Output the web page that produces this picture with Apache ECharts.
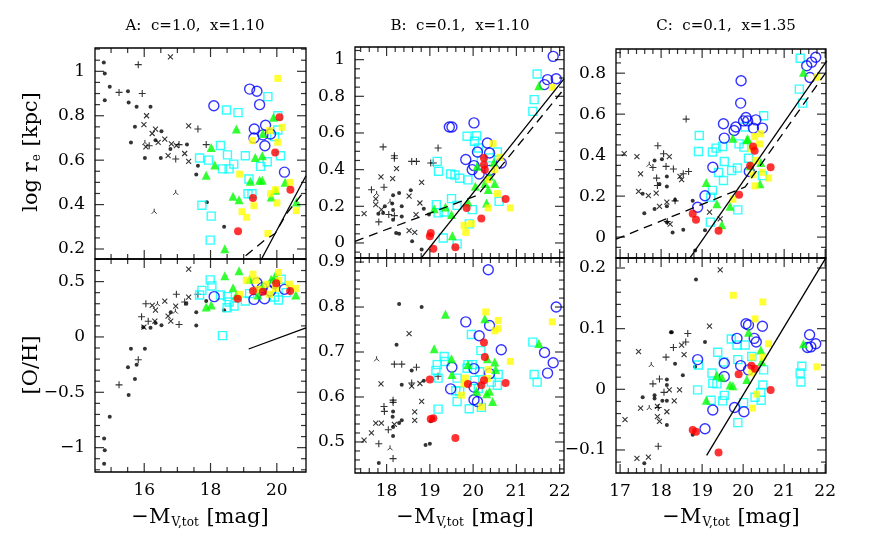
<!DOCTYPE html>
<html>
<head>
<meta charset="utf-8">
<script src="https://cdn.jsdelivr.net/npm/echarts@6/dist/echarts.min.js"></script>
<style>
  html, body { margin: 0; padding: 0; background: #fff; }
  #chart { width: 872px; height: 544px; }
</style>
</head>
<body>
<div id="chart"></div>
<script>
// ---- tick labels ----
const aXLabels = [16, 18, 20];
const bXLabels = [18, 19, 20, 21, 22];
const cXLabels = [17, 18, 19, 20, 21, 22];
const aReYLabels = [0.2, 0.4, 0.6, 0.8, 1];
const aOHYLabels = [-1, -0.5, 0, 0.5];
const bReYLabels = [0, 0.2, 0.4, 0.6, 0.8, 1];
const bOHYLabels = [0.5, 0.6, 0.7, 0.8, 0.9];
const cReYLabels = [0, 0.2, 0.4, 0.6, 0.8];
const cOHYLabels = [-0.1, 0, 0.1, 0.2];

// ---- panel A : log r_e ----
const aReDot = [[14.78,1.04],[14.81,0.99],[14.96,0.93],[14.81,0.87],[15.51,0.91],[15.53,0.86],[15.77,0.84],[16.19,0.84],[15.72,0.75],[15.60,0.68],[16.02,0.61],[16.34,0.69],[16.52,0.73],[16.79,0.65],[17.29,0.67],[17.62,0.575],[17.57,0.535],[17.89,0.41],[18.41,0.30],[16.50,0.61]];
const aRePlus = [[15.82,1.03],[15.24,0.905],[15.94,0.90],[17.62,0.74],[16.15,0.665],[16.95,0.605],[17.05,0.67],[17.87,0.67]];
const aReCross = [[16.79,1.065],[16.07,0.80],[15.99,0.76],[16.24,0.72],[16.34,0.74],[16.62,0.695],[16.42,0.68],[16.72,0.62],[16.97,0.665],[17.22,0.63],[17.34,0.595],[17.34,0.754],[16.05,0.66],[16.82,0.673]];
const aReTri = [[16.02,0.68],[16.95,0.455],[16.30,0.37]];
const aReBlue = [[18.10,0.845],[19.18,0.92],[19.40,0.91],[19.48,0.85],[19.32,0.74],[19.66,0.757],[19.31,0.70],[19.58,0.714],[19.81,0.718],[19.64,0.665],[20.23,0.546]];
const aReCyan = [[18.48,0.826],[18.83,0.814],[19.73,0.886],[20.03,0.80],[20.03,0.736],[19.93,0.706],[18.30,0.666],[18.51,0.624],[17.67,0.61],[17.94,0.60],[19.05,0.62],[18.70,0.582],[18.36,0.561],[18.56,0.561],[19.51,0.572],[19.71,0.593],[20.11,0.62],[19.16,0.515],[19.13,0.449],[19.25,0.449],[17.74,0.397],[18.02,0.348],[17.99,0.24]];
const aReGreen = [[19.90,0.793],[18.78,0.74],[19.58,0.72],[18.02,0.657],[19.35,0.612],[19.56,0.62],[18.13,0.578],[17.87,0.532],[19.20,0.505],[19.48,0.509],[19.56,0.509],[20.25,0.50],[19.96,0.464],[18.68,0.437],[18.86,0.422],[19.83,0.434],[20.59,0.412],[18.43,0.201]];
const aReYellow = [[20.03,0.968],[20.16,0.748],[19.78,0.733],[19.26,0.688],[20.03,0.681],[18.88,0.537],[20.40,0.50],[19.81,0.449],[19.96,0.467],[20.00,0.407],[19.31,0.395],[18.95,0.368],[19.09,0.343],[19.73,0.27],[20.59,0.373]];
const aReRed = [[20.08,0.793],[19.95,0.635],[20.41,0.467],[19.28,0.43],[18.83,0.28]];
const aReSolid = [[19.53,0.153],[20.88,0.53]];
const aReDash = [[19.06,0.17],[19.63,0.24],[19.95,0.27],[20.3,0.36],[20.88,0.47]];

// ---- panel A : [O/H] ----
const aOHDot = [[14.79,-0.918],[14.81,-1.024],[14.79,-1.145],[14.96,-0.721],[15.53,-0.524],[15.51,-0.273],[15.60,-0.106],[15.72,-0.379],[15.77,-0.252],[16.02,-0.106],[15.97,0.088],[16.19,0.082],[16.34,0.127],[16.52,0.106],[16.80,0.224],[17.27,0.30],[17.57,0.224],[17.57,0.103],[17.87,0.324],[18.41,0.242]];
const aOHPlus = [[16.05,0.30],[15.92,0.182],[15.82,-0.206],[15.24,-0.433],[16.97,0.385],[17.05,0.112],[17.62,0.385],[17.22,0.315],[16.12,0.142]];
const aOHCross = [[17.34,0.612],[16.24,0.285],[16.34,0.242],[16.62,0.324],[16.72,0.188],[16.80,0.142],[16.95,0.279],[17.34,0.36],[15.99,0.088],[16.32,0.142]];
const aOHTri = [[16.40,0.30],[16.94,0.233]];
const aOHBlue = [[18.11,0.364],[19.40,0.49],[19.31,0.339],[19.63,0.345],[19.81,0.415],[20.23,0.43],[19.56,0.445],[19.93,0.482]];
const aOHCyan = [[17.99,0.515],[18.04,0.46],[17.74,0.421],[17.67,0.379],[18.30,0.379],[18.51,0.364],[18.56,0.315],[18.71,0.279],[18.50,0.264],[19.05,0.324],[19.18,0.391],[18.36,0.012],[20.13,0.521],[20.05,0.333],[19.93,0.361],[20.28,0.40]];
const aOHGreen = [[18.43,0.552],[18.86,0.597],[18.68,0.445],[17.87,0.27],[18.02,0.288],[18.78,0.376],[19.18,0.521],[19.56,0.455],[19.83,0.521],[19.95,0.552],[20.57,0.379],[19.43,0.379]];
const aOHYellow = [[19.28,0.567],[19.08,0.512],[19.36,0.512],[19.43,0.43],[19.68,0.476],[20.05,0.582],[20.06,0.512],[19.96,0.439],[20.38,0.476],[20.57,0.439],[18.89,0.385],[19.78,0.385]];
const aOHRed = [[18.82,0.345],[19.28,0.415],[19.98,0.485],[20.40,0.415],[19.58,0.409]];
const aOHSolid = [[19.15,-0.109],[20.88,0.082]];

// ---- panel B : log r_e ----
const bReDot = [[17.81,0.16],[17.96,0.20],[18.15,0.26],[18.13,0.215],[18.15,0.18],[18.15,0.127],[18.29,0.273],[18.35,0.20],[18.35,0.145],[18.22,0.055],[18.29,0.05],[18.56,0.287],[18.59,0.01],[18.86,0.187],[18.81,-0.036],[18.98,0.155],[17.92,0.164]];
const bRePlus = [[17.92,0.524],[18.18,0.476],[18.18,0.462],[18.58,0.445],[18.69,0.445],[19.02,0.436],[19.08,0.436],[19.19,0.518],[17.65,0.29],[17.94,0.304],[17.82,0.115],[18.05,0.155],[18.18,0.149]];
const bReCross = [[17.48,0.16],[17.87,0.36],[18.14,0.351],[18.23,0.405],[17.75,0.24],[17.75,0.209],[17.88,0.182],[18.52,0.255],[18.68,0.155],[18.81,0.331],[18.77,0.218],[18.52,0.067],[18.65,0.058]];
const bReTri = [[17.77,0.27],[18.08,0.227]];
const bReBlue = [[19.45,0.633],[19.51,0.633],[20.02,0.655],[20.33,0.545],[20.10,0.496],[20.38,0.491],[19.83,0.455],[20.02,0.422],[19.98,0.40],[20.14,0.376],[20.38,0.396],[20.65,0.436],[21.85,1.018],[21.72,0.891],[21.65,0.864],[21.92,0.896]];
const bReCyan = [[21.48,0.922],[21.41,0.782],[21.38,0.718],[19.17,0.445],[19.20,0.391],[19.48,0.376],[19.58,0.371],[19.69,0.353],[19.88,0.344],[19.86,0.582],[20.08,0.585],[20.03,0.555],[20.12,0.518],[20.19,0.445],[20.56,0.496],[20.40,0.464],[19.50,0.242],[19.63,0.205],[19.15,0.209],[19.19,0.164],[19.33,0.169],[19.98,0.182],[19.91,0.104],[19.31,0.027],[19.63,-0.005],[20.60,0.227]];
const bReGreen = [[21.52,0.858],[19.10,0.187],[19.36,0.196],[19.50,0.155],[19.52,0.04],[19.88,0.224],[20.05,0.309],[20.27,0.324],[20.38,0.364],[20.35,0.291],[20.31,0.218],[20.50,0.324],[20.48,0.44],[20.09,0.418]];
const bReYellow = [[21.83,0.849],[20.46,0.542],[20.62,0.467],[20.50,0.40],[20.35,0.345],[20.56,0.269],[20.35,0.191],[20.86,0.191],[19.79,0.096],[19.83,0.058],[19.96,0.105]];
const bReRed = [[20.25,0.464],[20.25,0.427],[20.27,0.40],[19.85,0.191],[20.19,0.133],[20.75,0.24],[19.02,0.055],[19.00,0.036],[19.08,-0.031],[19.59,-0.024]];
const bReSolid = [[18.77,-0.091],[22.1,0.895]];
const bReDash = [[17.27,0.009],[20.1,0.26],[22.1,0.84]];

// ---- panel B : [O/H] ----
const bOHDot = [[18.29,0.807],[18.81,0.80],[18.23,0.716],[18.35,0.627],[18.58,0.659],[18.86,0.636],[18.15,0.568],[18.14,0.556],[18.15,0.533],[18.15,0.513],[18.29,0.542],[18.35,0.548],[17.82,0.453],[18.90,0.493],[19.00,0.496],[19.02,0.546],[19.08,0.553]];
const bOHPlus = [[18.18,0.673],[18.35,0.673],[18.69,0.666],[19.19,0.646],[18.15,0.593],[18.15,0.588],[17.94,0.579],[17.95,0.568],[18.04,0.527],[17.82,0.496],[18.15,0.463],[18.58,0.631]];
const bOHCross = [[17.48,0.504],[17.65,0.52],[17.75,0.542],[17.88,0.542],[17.87,0.629],[18.52,0.741],[18.58,0.624],[18.77,0.63],[18.81,0.59],[18.65,0.567],[18.65,0.548],[18.18,0.539]];
const bOHTri = [[17.77,0.685],[18.08,0.487]];
const bOHBlue = [[20.35,0.883],[21.92,0.80],[19.83,0.767],[20.38,0.759],[20.14,0.736],[20.65,0.705],[21.65,0.699],[21.85,0.676],[21.72,0.653],[19.51,0.666],[20.02,0.663],[20.38,0.652],[19.48,0.618],[20.02,0.622],[20.02,0.594],[20.10,0.59]];
const bOHCyan = [[19.17,0.672],[19.33,0.69],[19.35,0.679],[19.14,0.659],[19.19,0.642],[19.63,0.642],[19.60,0.614],[19.69,0.613],[19.63,0.59],[19.88,0.672],[19.98,0.672],[19.86,0.664],[19.96,0.739],[20.18,0.703],[20.15,0.656],[20.04,0.637],[20.12,0.619],[19.91,0.574],[20.19,0.577],[19.19,0.573],[20.42,0.633],[20.56,0.626],[20.58,0.65],[21.38,0.722],[21.41,0.65],[21.48,0.633]];
const bOHGreen = [[19.36,0.784],[19.10,0.707],[19.50,0.685],[19.51,0.65],[19.88,0.672],[20.27,0.774],[20.33,0.685],[20.50,0.678],[20.52,0.661],[20.38,0.613],[20.31,0.607],[20.08,0.613],[20.45,0.59],[21.52,0.719]];
const bOHYellow = [[20.29,0.789],[20.58,0.77],[20.50,0.747],[20.58,0.752],[20.86,0.679],[21.83,0.767],[19.82,0.642],[19.73,0.604],[19.79,0.629],[20.35,0.661],[20.33,0.641],[20.19,0.578]];
const bOHRed = [[20.25,0.721],[20.27,0.689],[20.25,0.637],[20.19,0.626],[19.88,0.629],[20.75,0.631],[19.00,0.639],[19.02,0.551],[19.08,0.553],[19.59,0.509]];

// ---- panel C : log r_e ----
const cReDot = [[17.55,0.211],[17.59,0.117],[17.84,0.137],[17.84,0.374],[17.96,0.259],[18.02,0.38],[18.14,0.296],[18.14,0.247],[18.14,0.15],[18.34,0.182],[18.28,0.023],[18.54,0.036],[18.77,0.177],[19.07,0.033],[18.83,-0.065],[18.14,0.072]];
const cRePlus = [[18.61,0.576],[17.92,0.446],[18.06,0.407],[17.80,0.34],[18.12,0.345],[17.91,0.252],[17.89,0.288],[18.30,0.332],[18.54,0.309],[18.67,0.32],[18.34,0.177],[18.15,0.076]];
const cReCross = [[17.10,0.407],[17.41,0.393],[17.50,0.309],[18.20,0.393],[17.45,0.223],[17.69,0.202],[17.88,0.215],[17.96,0.15],[18.46,0.296],[18.50,0.28],[18.22,0.063],[19.18,0.122],[19.44,0.089],[18.14,0.171]];
const cReTri = [[17.71,0.356]];
const cReBlue = [[19.95,0.763],[19.94,0.654],[21.77,0.878],[21.67,0.854],[21.55,0.836],[21.63,0.779],[19.52,0.553],[19.54,0.483],[19.82,0.537],[19.78,0.52],[20.07,0.584],[20.11,0.567],[20.01,0.567],[20.31,0.572],[20.25,0.532],[20.47,0.532],[19.26,0.341],[19.07,0.202],[18.89,0.146],[20.15,0.32]];
const cReCyan = [[21.39,0.873],[21.37,0.722],[21.45,0.654],[18.93,0.496],[18.91,0.418],[19.25,0.415],[19.34,0.434],[19.50,0.442],[19.40,0.315],[19.54,0.369],[19.72,0.325],[19.86,0.337],[19.52,0.276],[19.25,0.228],[19.21,0.195],[19.20,0.073],[19.87,0.133],[19.90,0.455],[20.05,0.537],[20.02,0.439],[20.13,0.385],[20.50,0.592],[20.47,0.30]];
const cReGreen = [[21.47,0.805],[19.75,0.483],[20.11,0.48],[20.09,0.475],[19.10,0.267],[19.36,0.163],[19.68,0.15],[19.48,0.06],[20.17,0.348],[20.43,0.364],[20.41,0.26]];
const cReYellow = [[21.80,0.78],[20.28,0.491],[20.43,0.504],[20.21,0.431],[20.40,0.455],[20.31,0.374],[20.47,0.316],[20.24,0.304],[20.29,0.25],[20.62,0.288],[19.75,0.185]];
const cReRed = [[20.24,0.442],[20.28,0.421],[20.17,0.348],[20.67,0.341],[19.90,0.207],[18.77,0.114],[18.85,0.085],[19.40,0.031]];
const cReSolid = [[18.67,-0.111],[22.04,0.86]];
const cReDash = [[16.9,-0.01],[20.05,0.245],[22.04,0.81]];

// ---- panel C : [O/H] ----
const cOHDot = [[18.85,0.181],[18.24,0.094],[18.26,0.094],[18.34,0.042],[18.53,0.023],[19.07,0.078],[18.14,0.016],[18.14,0.007],[18.14,-0.019],[18.14,-0.059],[18.03,-0.019],[17.84,-0.01],[17.84,-0.015],[17.55,-0.013],[18.77,-0.075],[17.59,-0.122],[18.83,0.037]];
const cOHPlus = [[18.65,0.092],[18.60,0.078],[18.30,0.069],[18.12,0.053],[17.96,0.017],[17.80,0.009],[18.07,-0.005],[17.93,-0.03],[17.93,-0.094]];
const cOHCross = [[17.45,0.062],[17.12,-0.05],[17.50,-0.031],[17.69,-0.112],[17.41,-0.114],[17.91,-0.045],[17.96,-0.053],[17.91,-0.028],[18.20,-0.001],[18.45,-0.001],[18.32,-0.019],[18.14,-0.037],[18.56,0.057],[18.50,0.073],[19.18,0.104],[19.44,0.197]];
const cOHTri = [[17.76,0.041],[17.71,-0.03]];
const cOHBlue = [[18.89,0.049],[19.07,-0.065],[19.26,-0.034],[19.54,0.043],[19.54,0.021],[19.85,0.084],[20.07,0.108],[20.13,0.106],[20.27,0.084],[20.32,0.078],[20.47,0.104],[19.94,0.039],[20.13,0.032],[19.79,-0.03],[20.02,-0.037],[21.62,0.09],[21.57,0.069],[21.65,0.07],[21.77,0.075]];
const cOHCyan = [[18.91,0.04],[18.89,-0.001],[19.24,0.027],[19.26,0.01],[19.36,0.009],[19.22,-0.018],[19.38,0.061],[19.52,0.045],[19.50,-0.019],[19.54,-0.01],[19.71,0.083],[19.85,0.073],[20.05,0.073],[19.87,0.049],[19.87,-0.055],[20.01,-0.022],[20.21,0.054],[20.50,0.032],[20.48,0.007],[20.43,-0.005],[20.44,-0.018],[20.29,-0.013],[21.39,0.027],[21.43,0.038],[21.41,0.012]];
const cOHGreen = [[19.10,-0.018],[19.36,0.023],[19.48,0.02],[19.68,0.007],[19.75,0.006],[20.09,0.016],[20.13,0.094],[20.43,0.065],[20.45,0.046],[21.47,0.075]];
const cOHYellow = [[19.76,0.155],[20.48,0.144],[20.29,0.116],[20.62,0.075],[20.48,0.053],[20.23,0.053],[20.21,0.027],[20.33,-0.008],[20.23,-0.031],[21.80,0.037]];
const cOHRed = [[19.89,0.025],[20.20,0.039],[20.29,0.034],[20.67,-0.001],[18.77,-0.067],[18.85,-0.07],[19.40,-0.104]];
const cOHSolid = [[19.11,-0.109],[22.02,0.217]];

// ---- marker looks ----
const FONT = 'DejaVu Serif';
const marks = {
  dot:    { symbol: 'circle', symbolSize: 4, itemStyle: { color: '#000' } },
  plus:   { symbol: 'path://M0,5L10,5M5,0L5,10', symbolSize: 7, itemStyle: { color: 'none', borderColor: '#000', borderWidth: 1.1 } },
  cross:  { symbol: 'path://M0,0L10,10M10,0L0,10', symbolSize: 5, itemStyle: { color: 'none', borderColor: '#000', borderWidth: 1.1 } },
  tri:    { symbol: 'path://M5,0L5,5M5,5L0,10M5,5L10,10', symbolSize: 5, itemStyle: { color: 'none', borderColor: '#000', borderWidth: 1 } },
  cyan:   { symbol: 'rect', symbolSize: 8, itemStyle: { color: 'rgba(0,0,0,0)', borderColor: '#00ffff', borderWidth: 1.4 } },
  blue:   { symbol: 'circle', symbolSize: 10, itemStyle: { color: 'rgba(0,0,0,0)', borderColor: '#0000ff', borderWidth: 1.4 } },
  green:  { symbol: 'triangle', symbolSize: 9, itemStyle: { color: '#00ff00' } },
  yellow: { symbol: 'rect', symbolSize: 7, itemStyle: { color: '#ffff00' } },
  red:    { symbol: 'circle', symbolSize: 8, itemStyle: { color: '#ff0000' } }
};

// ---- panel layout ----
const panels = [
  { grid: { left: 95, top: 48, width: 211, height: 211 }, x: [14.515, 20.88], y: [0.155, 1.105],
    xLab: aXLabels, xMin: 0.5, yLab: aReYLabels, yMin: 0.05, showX: false,
    pts: { dot: aReDot, plus: aRePlus, cross: aReCross, tri: aReTri, cyan: aReCyan, blue: aReBlue, green: aReGreen, yellow: aReYellow, red: aReRed },
    solid: aReSolid, dash: aReDash },
  { grid: { left: 95, top: 259, width: 211, height: 213 }, x: [14.515, 20.88], y: [-1.22, 0.704],
    xLab: aXLabels, xMin: 0.5, yLab: aOHYLabels, yMin: 0.1, showX: true,
    pts: { dot: aOHDot, plus: aOHPlus, cross: aOHCross, tri: aOHTri, cyan: aOHCyan, blue: aOHBlue, green: aOHGreen, yellow: aOHYellow, red: aOHRed },
    solid: aOHSolid },
  { grid: { left: 355, top: 47, width: 209, height: 211 }, x: [17.27, 22.1], y: [-0.082, 1.069],
    xLab: bXLabels, xMin: 0.2, yLab: bReYLabels, yMin: 0.05, showX: false,
    pts: { dot: bReDot, plus: bRePlus, cross: bReCross, tri: bReTri, cyan: bReCyan, blue: bReBlue, green: bReGreen, yellow: bReYellow, red: bReRed },
    solid: bReSolid, dash: bReDash },
  { grid: { left: 355, top: 258, width: 209, height: 215 }, x: [17.27, 22.1], y: [0.431, 0.909],
    xLab: bXLabels, xMin: 0.2, yLab: bOHYLabels, yMin: 0.02, showX: true,
    pts: { dot: bOHDot, plus: bOHPlus, cross: bOHCross, tri: bOHTri, cyan: bOHCyan, blue: bOHBlue, green: bOHGreen, yellow: bOHYellow, red: bOHRed } },
  { grid: { left: 616, top: 49, width: 210, height: 209 }, x: [16.9, 22.02], y: [-0.102, 0.918],
    xLab: cXLabels, xMin: 0.2, yLab: cReYLabels, yMin: 0.05, showX: false,
    pts: { dot: cReDot, plus: cRePlus, cross: cReCross, tri: cReTri, cyan: cReCyan, blue: cReBlue, green: cReGreen, yellow: cReYellow, red: cReRed },
    solid: cReSolid, dash: cReDash },
  { grid: { left: 616, top: 258, width: 210, height: 215 }, x: [16.9, 22.02], y: [-0.138, 0.2165],
    xLab: cXLabels, xMin: 0.2, yLab: cOHYLabels, yMin: 0.02, showX: true,
    pts: { dot: cOHDot, plus: cOHPlus, cross: cOHCross, tri: cOHTri, cyan: cOHCyan, blue: cOHBlue, green: cOHGreen, yellow: cOHYellow, red: cOHRed },
    solid: cOHSolid }
];

// tick positions between the range ends (minor ticks skip the labelled ones)
function steps(lo, hi, step, skip) {
  const out = [];
  for (let k = Math.ceil(lo / step - 1e-9); k * step <= hi + 1e-9; k++) {
    const v = Math.round(k * step * 1e6) / 1e6;
    if (!skip.some(s => Math.abs(s - v) < 1e-6)) out.push(v);
  }
  return out;
}
const fmt = v => String(Math.round(v * 1e6) / 1e6).replace('-', '\u2212');
const MAJOR = 9, MINOR = 5, TW = 1.2;

// inward frame ticks: thin rect symbols sitting on each frame side, shifted inside
function tickSet(i, data, size, offset) {
  return { type: 'scatter', xAxisIndex: i, yAxisIndex: i, data: data, symbol: 'rect',
    symbolSize: size, symbolOffset: offset, itemStyle: { color: '#000' }, silent: true, clip: false, z: 5 };
}
function frameTicks(p, i) {
  const out = [];
  const xMinors = steps(p.x[0], p.x[1], p.xMin, p.xLab);
  const yMinors = steps(p.y[0], p.y[1], p.yMin, p.yLab);
  [[p.xLab, MAJOR], [xMinors, MINOR]].forEach(([vals, len]) => {
    out.push(tickSet(i, vals.map(v => [v, p.y[0]]), [TW, len], [0, -len / 2]));
    out.push(tickSet(i, vals.map(v => [v, p.y[1]]), [TW, len], [0, len / 2]));
  });
  [[p.yLab, MAJOR], [yMinors, MINOR]].forEach(([vals, len]) => {
    out.push(tickSet(i, vals.map(v => [p.x[0], v]), [len, TW], [len / 2, 0]));
    out.push(tickSet(i, vals.map(v => [p.x[1], v]), [len, TW], [-len / 2, 0]));
  });
  return out;
}

const grids = [], xAxes = [], yAxes = [], series = [];
panels.forEach((p, i) => {
  grids.push(Object.assign({ show: true, borderColor: '#000', borderWidth: 1.3 }, p.grid));
  const ax = (labels, lo, hi, showLab) => ({
    type: 'value', gridIndex: i, min: lo, max: hi,
    axisLine: { show: false, onZero: false }, splitLine: { show: false }, axisTick: { show: false },
    axisLabel: { show: showLab, customValues: labels, formatter: fmt, color: '#000', fontFamily: FONT, fontSize: 17, margin: 10 }
  });
  xAxes.push(ax(p.xLab, p.x[0], p.x[1], p.showX));
  yAxes.push(ax(p.yLab, p.y[0], p.y[1], true));
  Object.keys(p.pts).forEach(k => {
    series.push(Object.assign({ type: 'scatter', xAxisIndex: i, yAxisIndex: i, data: p.pts[k], silent: true }, marks[k]));
  });
  if (p.solid) series.push({ type: 'line', xAxisIndex: i, yAxisIndex: i, data: p.solid, showSymbol: false, silent: true,
    lineStyle: { color: '#000', width: 1.3 } });
  if (p.dash) series.push({ type: 'line', xAxisIndex: i, yAxisIndex: i, data: p.dash, showSymbol: false, silent: true,
    lineStyle: { color: '#000', width: 1.3, type: [9, 6] } });
  series.push(...frameTicks(p, i));
});

// titles and axis names
const titles = ['A:  c=1.0,  x=1.10', 'B:  c=0.1,  x=1.10', 'C:  c=0.1,  x=1.35'];
const centers = [195, 460, 726];
const graphic = [];
titles.forEach((t, i) => {
  graphic.push({ type: 'text', x: centers[i], y: 26, style: { text: t, font: '15px "' + FONT + '"', fill: '#000', align: 'center', verticalAlign: 'middle' } });
  graphic.push({ type: 'text', x: centers[i] + 5, y: 518, style: {
    text: '\u2212M{s|V,tot} [mag]', font: '21px "' + FONT + '"', fill: '#000', align: 'center', verticalAlign: 'middle',
    rich: { s: { font: '12px "' + FONT + '"', fill: '#000', verticalAlign: 'bottom', padding: [10, 1, 0, 1] } } } });
});
graphic.push({ type: 'text', x: 32, y: 152, rotation: Math.PI / 2, style: {
  text: 'log r{s|e} [kpc]', font: '21px "' + FONT + '"', fill: '#000', align: 'center', verticalAlign: 'middle',
  rich: { s: { font: '12px "' + FONT + '"', fill: '#000', verticalAlign: 'bottom', padding: [10, 1, 0, 1] } } } });
graphic.push({ type: 'text', x: 32, y: 365, rotation: Math.PI / 2, style: {
  text: '[O/H]', font: '21px "' + FONT + '"', fill: '#000', align: 'center', verticalAlign: 'middle' } });

const chart = echarts.init(document.getElementById('chart'), null, { renderer: 'canvas' });
chart.setOption({
  animation: false,
  backgroundColor: '#fff',
  grid: grids,
  xAxis: xAxes,
  yAxis: yAxes,
  series: series,
  graphic: graphic
});
</script>
</body>
</html>
